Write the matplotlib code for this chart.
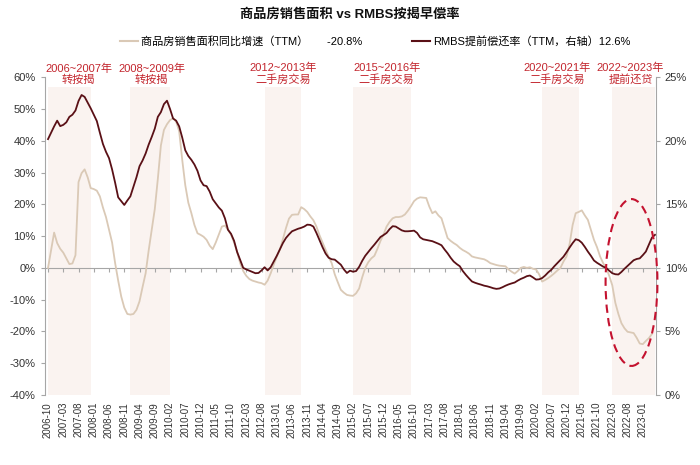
import numpy as np
import pandas as pd
import matplotlib
matplotlib.use("Agg")
import matplotlib.pyplot as plt
from matplotlib.patches import Ellipse
from matplotlib.lines import Line2D

plt.rcParams['font.family'] = ['Liberation Sans', 'Noto Sans CJK SC']
plt.rcParams['axes.unicode_minus'] = False

# ================================
# DATA
# ================================
months = pd.period_range('2006-10', '2023-05', freq='M').strftime('%Y-%m').tolist()

# 商品房销售面积同比增速 (TTM, %), 2006-10 .. 2023-04
sales_yoy = [
    0.0, 5.5, 11.1, 7.8, 6.0, 4.8, 3.0, 1.2, 1.4, 4.0,
    27.0, 29.8, 31.0, 28.5, 25.1, 24.8, 24.3, 22.5, 19.0, 16.0,
    12.0, 8.0, 1.5, -4.0, -9.0, -12.5, -14.5, -14.7, -14.5, -13.2,
    -10.5, -6.0, -1.7, 5.5, 12.0, 18.5, 28.0, 38.5, 43.4, 45.2,
    46.5, 47.1, 46.0, 43.0, 34.0, 26.0, 20.5, 17.2, 13.5, 10.9,
    10.4, 9.8, 8.8, 7.0, 5.9, 8.0, 10.5, 13.0, 13.3, 12.0,
    10.5, 8.0, 5.0, 1.5, -1.0, -2.5, -3.5, -4.0, -4.3, -4.6,
    -4.8, -5.3, -4.0, -1.7, 1.0, 3.5, 5.7, 9.0, 12.5, 15.5,
    16.7, 16.8, 16.8, 19.1, 18.5, 17.6, 16.2, 15.0, 13.0, 10.3,
    8.0, 5.7, 3.5, 1.5, -2.0, -4.5, -6.9, -7.8, -8.5, -8.7,
    -8.8, -8.0, -6.5, -3.0, 0.0, 1.8, 3.0, 3.8, 6.0, 8.5,
    10.5, 13.0, 14.5, 15.6, 16.0, 16.0, 16.2, 16.8, 18.0, 19.4,
    21.0, 21.8, 22.2, 22.1, 22.0, 19.3, 17.2, 17.8, 16.5, 15.6,
    12.5, 9.4, 8.5, 7.8, 7.2, 6.3, 5.6, 5.1, 4.5, 3.6,
    3.3, 3.1, 2.9, 2.7, 2.2, 1.5, 1.2, 0.9, 0.7, 0.6,
    0.5, -0.5, -1.2, -1.8, -1.0, 0.0, 0.3, 0.0, 0.2, -0.3,
    -0.5, -2.0, -4.3, -3.8, -3.2, -2.5, -1.7, -0.8, 0.0, 2.0,
    3.6, 7.5, 13.5, 17.2, 17.6, 18.1, 16.5, 15.1, 12.0, 8.8,
    6.5, 3.6, 1.5, 0.0, -2.5, -5.5, -11.0, -14.5, -17.4, -19.0,
    -20.1, -20.3, -20.5, -22.0, -23.8, -24.0, -23.0, -22.1, -20.8,
]

# RMBS提前偿还率 (TTM, %, 右轴), 2006-10 .. 2023-05
rmbs_cpr = [
    20.13, 20.63, 21.13, 21.58, 21.15, 21.25, 21.45, 21.88, 22.05, 22.38,
    23.13, 23.60, 23.45, 23.00, 22.55, 22.05, 21.55, 20.63, 19.75, 19.13,
    18.63, 17.75, 16.70, 15.55, 15.25, 14.95, 15.30, 15.63, 16.38, 17.13,
    18.00, 18.45, 19.00, 19.70, 20.30, 20.95, 21.88, 22.25, 22.88, 23.15,
    22.50, 21.75, 21.58, 21.13, 20.25, 19.25, 18.80, 18.50, 18.13, 17.63,
    16.88, 16.50, 16.43, 16.00, 15.40, 15.08, 14.75, 14.50, 13.90, 13.00,
    12.68, 12.13, 11.25, 10.63, 10.00, 9.88, 9.78, 9.68, 9.58, 9.60,
    9.80, 10.05, 9.80, 10.05, 10.50, 10.95, 11.45, 11.95, 12.35, 12.63,
    12.88, 12.98, 13.08, 13.15, 13.25, 13.40, 13.38, 13.25, 12.75, 12.20,
    11.63, 11.13, 10.80, 10.68, 10.65, 10.45, 10.25, 9.88, 9.60, 9.78,
    9.70, 9.75, 10.08, 10.55, 10.95, 11.25, 11.55, 11.83, 12.13, 12.43,
    12.58, 12.75, 13.05, 13.28, 13.25, 13.10, 12.95, 12.88, 12.88, 12.90,
    12.93, 12.75, 12.40, 12.25, 12.20, 12.15, 12.10, 12.00, 11.90, 11.78,
    11.45, 11.15, 10.80, 10.50, 10.30, 10.13, 9.75, 9.45, 9.18, 8.93,
    8.83, 8.75, 8.68, 8.60, 8.55, 8.48, 8.40, 8.35, 8.38, 8.48,
    8.60, 8.70, 8.78, 8.85, 9.00, 9.13, 9.23, 9.35, 9.40, 9.25,
    9.08, 9.10, 9.20, 9.40, 9.65, 9.85, 10.13, 10.38, 10.63, 10.88,
    11.23, 11.60, 11.95, 12.25, 12.18, 11.98, 11.65, 11.28, 10.95, 10.58,
    10.40, 10.25, 10.10, 10.00, 9.78, 9.58, 9.50, 9.48, 9.68, 9.93,
    10.15, 10.38, 10.60, 10.70, 10.75, 11.00, 11.28, 11.83, 12.38, 12.60,
]

# shaded periods: start, end, label anchor month, label
periods = [
    ("2006-10", "2007-12", "2007-08", "2006~2007年\n转按揭"),
    ("2009-01", "2010-02", "2009-08", "2008~2009年\n转按揭"),
    ("2012-09", "2013-09", "2013-03", "2012~2013年\n二手房交易"),
    ("2015-02", "2016-09", "2016-01", "2015~2016年\n二手房交易"),
    ("2020-04", "2021-04", "2020-09", "2020~2021年\n二手房交易"),
    ("2022-03", "2023-05", "2022-09", "2022~2023年\n提前还贷"),
]

LIGHT = "#dac9b6"
DARK = "#5a1016"
SHADE = "#faf3f0"
RED = "#c3262e"
GRAY = "#a6a6a6"

# ================================
# PLOT
# ================================
idx = {m: i for i, m in enumerate(months)}
x_sales = np.arange(len(sales_yoy))
x_rmbs = np.arange(len(rmbs_cpr))

fig = plt.figure(figsize=(7, 4.65), dpi=100)
ax = fig.add_axes([0.0636, 0.1505, 0.937 - 0.0636, 0.834 - 0.1505])
ax2 = ax.twinx()

for start, end, lab_m, label in periods:
    ax.axvspan(idx[start], idx[end], ymin=0, ymax=0.97, color=SHADE, lw=0, zorder=0)
    ax.text(idx[lab_m], 57.5, label, ha="center", va="bottom", color=RED,
            fontsize=8, linespacing=1.15, clip_on=False)

ax.plot(x_sales, sales_yoy, color=LIGHT, lw=1.3, zorder=3)
ax2.plot(x_rmbs, rmbs_cpr, color=DARK, lw=1.3, zorder=3)

# dashed ellipse around 2022~2023
ell = Ellipse((191.3, -4.6), 17, 52.5, transform=ax.transData, fill=False,
              edgecolor="#c4122f", lw=1.5, linestyle=(0, (4, 2.5)), clip_on=False, zorder=5)
ax2.add_patch(ell)

ax.set_xlim(-1.15, 199.3)
ax.set_ylim(-40, 60)
ax2.set_ylim(0, 25)

ax.set_yticks(np.arange(-40, 61, 10))
ax.set_yticklabels([f"{v}%" for v in range(-40, 61, 10)])
ax2.set_yticks(np.arange(0, 26, 5))
ax2.set_yticklabels([f"{v}%" for v in range(0, 26, 5)])

xt = list(range(0, len(months), 5))
ax.set_xticks(xt)
ax.set_xticklabels([months[i] for i in xt], rotation=90, fontsize=7, color="#333333")
ax.tick_params(axis="x", length=0, pad=5)

for a in (ax, ax2):
    for s in a.spines.values():
        s.set_visible(False)
    a.tick_params(axis="y", length=3, color=GRAY, labelsize=8, labelcolor="#333333")
ax.spines["left"].set_visible(True)
ax.spines["left"].set_color(GRAY)
ax2.spines["right"].set_visible(True)
ax2.spines["right"].set_color(GRAY)

# zero line with month ticks
sec = ax.secondary_xaxis(0.4)
sec.set_xticks(xt)
sec.tick_params(axis="x", length=3, color=GRAY, labelbottom=False, labeltop=False)
for s in sec.spines.values():
    s.set_color(GRAY)

fig.text(0.5, 0.968, "商品房销售面积 vs RMBS按揭早偿率", ha="center", va="center",
         fontsize=9.5, fontweight="bold", color="#111111")

handles = [Line2D([], [], color=LIGHT, lw=1.5), Line2D([], [], color=DARK, lw=1.5)]
labels = ["商品房销售面积同比增速（TTM）      -20.8%", "RMBS提前偿还率（TTM，右轴）12.6%"]
fig.legend(handles, labels, loc="center", bbox_to_anchor=(0.536, 0.91), ncol=2,
           frameon=False, fontsize=8, handlelength=1.6, handletextpad=0.3,
           columnspacing=4.5)

fig.savefig("out.png", dpi=100)
